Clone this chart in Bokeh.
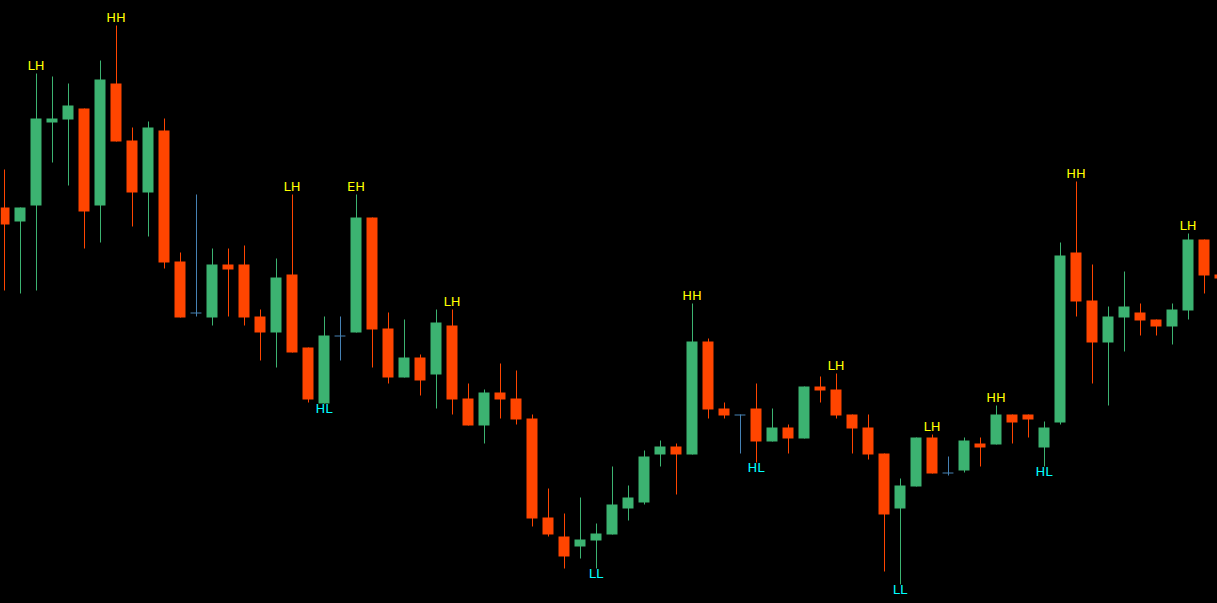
from bokeh.plotting import figure
from bokeh.models import Range1d, ColumnDataSource
from bokeh.core.properties import value
from bokeh.embed import file_html
from bokeh.resources import INLINE

# Price levels read off the chart, measured downward from the top of the chart
# (the price axis is therefore drawn inverted: smaller number = higher price).
opens  = [207, 221, 205, 122, 119, 108, 205, 83, 140, 192, 130, 261, 312, 317, 264, 264,
          316, 332, 274, 347, 403, 335, 332, 217, 328, 377, 357, 374, 325, 398, 425, 392,
          398, 418, 517, 536, 546, 540, 534, 508, 502, 454, 446, 454, 341, 408, 414, 408,
          441, 427, 438, 386, 389, 414, 427, 453, 508, 486, 437, 472, 470, 443, 444, 414,
          414, 447, 422, 252, 300, 342, 317, 312, 319, 326, 310, 239, 274]
highs  = [169, 207, 73, 76, 83, 108, 60, 25, 127, 121, 118, 252, 194, 248, 248, 245,
          309, 258, 194, 347, 316, 316, 194, 217, 312, 319, 354, 309, 309, 383, 389, 363,
          370, 414, 488, 513, 497, 523, 466, 485, 450, 440, 443, 303, 338, 402, 414, 383,
          408, 424, 386, 376, 373, 414, 414, 453, 478, 437, 434, 456, 437, 437, 405, 414,
          414, 421, 242, 181, 264, 306, 271, 303, 319, 303, 233, 239, 274]
lows   = [290, 293, 290, 162, 185, 248, 242, 141, 226, 236, 268, 317, 316, 325, 316, 325,
          360, 367, 352, 402, 403, 360, 332, 367, 383, 377, 395, 408, 414, 425, 443, 418,
          424, 526, 536, 568, 558, 568, 534, 520, 504, 466, 494, 454, 418, 418, 453, 462,
          441, 453, 438, 402, 418, 453, 459, 571, 584, 486, 473, 475, 472, 466, 444, 443,
          437, 466, 424, 316, 383, 405, 351, 335, 335, 344, 319, 293, 278]
closes = [224, 207, 118, 118, 105, 211, 79, 141, 192, 127, 262, 317, 312, 264, 269, 317,
          332, 277, 352, 399, 335, 335, 217, 329, 377, 357, 380, 322, 399, 425, 392, 399,
          419, 518, 534, 556, 539, 533, 504, 497, 456, 446, 454, 341, 409, 415, 414, 441,
          427, 438, 386, 390, 415, 428, 454, 514, 485, 437, 473, 472, 440, 447, 414, 422,
          419, 427, 255, 301, 342, 316, 306, 320, 326, 309, 239, 275, 278]

# Swing labels: bar index, text, and whether it sits above the high or below the low
label_bars  = [2, 7, 18, 20, 22, 28, 37, 43, 47, 52, 56, 58, 62, 65, 67, 74]
label_texts = ["LH", "HH", "LH", "HL", "EH", "LH", "LL", "HH", "HL", "LH", "LL", "LH",
               "HH", "HL", "HH", "LH"]
label_at_high = [True, True, True, False, True, True, False, True, False, True, False,
                 True, True, False, True, True]

UP = "#3CB371"
DOWN = "#FF4500"
DOJI = "#4682B4"

n = len(opens)
idx = list(range(n))
colors = []
for o, c in zip(opens, closes):
    if c < o:
        colors.append(UP)      # close above open (axis inverted)
    elif c > o:
        colors.append(DOWN)
    else:
        colors.append(DOJI)

body_top = [min(o, c) for o, c in zip(opens, closes)]
body_bot = [max(o, c) for o, c in zip(opens, closes)]

W, H = 1217, 603
bar_px = 16.0
half_px = 0.5 / bar_px   # keeps 1px wicks on whole pixels

bars = ColumnDataSource(dict(x=[i + half_px for i in idx], h=highs, l=lows, color=colors))
body_idx = [i for i in idx if colors[i] != DOJI]
doji_idx = [i for i in idx if colors[i] == DOJI]
bodies = ColumnDataSource(dict(x=body_idx,
                               top=[body_top[i] for i in body_idx],
                               bot=[body_bot[i] for i in body_idx],
                               color=[colors[i] for i in body_idx]))
dojis = ColumnDataSource(dict(x0=[i - 0.34 for i in doji_idx],
                              x1=[i + 0.34 for i in doji_idx],
                              y=[opens[i] + 0.5 for i in doji_idx]))

x_start = -3.5 / bar_px
p = figure(width=W, height=H, output_backend="svg", toolbar_location=None,
           x_range=Range1d(x_start, x_start + W / bar_px),
           y_range=Range1d(603, 0), min_border=0,
           background_fill_color="black", border_fill_color="black")
p.outline_line_color = None
p.axis.visible = False
p.grid.visible = False

p.segment(x0="x", x1="x", y0="h", y1="l", color="color", line_width=1, source=bars)
p.vbar(x="x", width=11 / bar_px, top="top", bottom="bot", fill_color="color",
       line_color=None, source=bodies)
p.segment(x0="x0", x1="x1", y0="y", y1="y", color=DOJI, line_width=1, source=dojis)

hi_x = [b for b, t, a in zip(label_bars, label_texts, label_at_high) if a]
hi_t = [t for b, t, a in zip(label_bars, label_texts, label_at_high) if a]
lo_x = [b for b, t, a in zip(label_bars, label_texts, label_at_high) if not a]
lo_t = [t for b, t, a in zip(label_bars, label_texts, label_at_high) if not a]
p.text(x=hi_x, y=[highs[b] for b in hi_x], text=hi_t, text_color="#FFFF00",
       text_font=value("DejaVu Sans"), text_font_size="13px", text_align="center",
       text_baseline="alphabetic", y_offset=-8)
p.text(x=lo_x, y=[lows[b] for b in lo_x], text=lo_t, text_color="#00FFFF",
       text_font=value("DejaVu Sans"), text_font_size="13px", text_align="center",
       text_baseline="alphabetic", y_offset=5)

template = """
{% block preamble %}
<style>html, body { margin: 0 !important; padding: 0 !important; background: #000; overflow: hidden; }</style>
{% endblock %}
"""
open("out.html", "w").write(file_html(p, INLINE, template=template))
